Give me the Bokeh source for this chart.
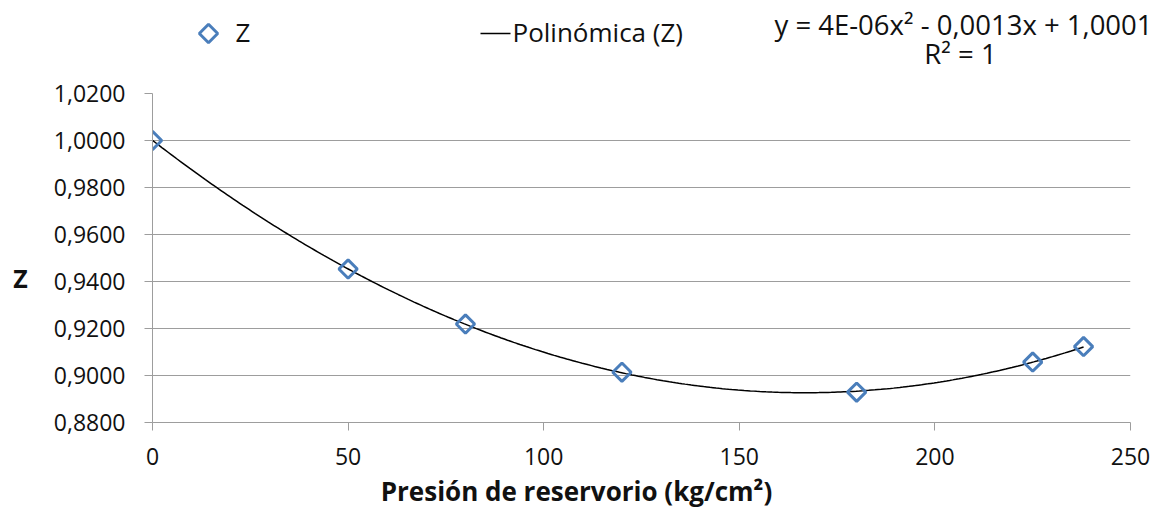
import numpy as np
from bokeh.plotting import figure
from bokeh.models import Range1d, FixedTicker, Label
from bokeh.embed import file_html
from bokeh.resources import INLINE

# ---- data ----
pressure = [0, 50, 80, 120, 180, 225, 238]
z_values = [1.0000, 0.9453, 0.9219, 0.9014, 0.8929, 0.9057, 0.9123]
x_ticks = [0, 50, 100, 150, 200, 250]
y_ticks = [0.88, 0.90, 0.92, 0.94, 0.96, 0.98, 1.00, 1.02]
y_tick_labels = ["0,8800", "0,9000", "0,9200", "0,9400", "0,9600", "0,9800", "1,0000", "1,0200"]
series_name = "Z"
trend_name = "Polinómica (Z)"
equation_text = "y = 4E-06x² - 0,0013x + 1,0001"
r2_text = "R² = 1"
x_title = "Presión de reservorio (kg/cm²)"
y_title = "Z"

# ---- style ----
FONT = "Open Sans"
TXT = "#111111"
GRID = "#9d9d9d"
BLUE = "#4A7EBB"
W = 1161
HEAD_H = 78
MAIN_H = 398
FOOT_H = 40
FOOT_OVERLAP = 6


def blank(height, **kw):
    f = figure(width=W, height=height, x_range=Range1d(0, W), y_range=Range1d(height, 0),
               output_backend="svg", toolbar_location=None, min_border=0,
               x_axis_type=None, y_axis_type=None, **kw)
    f.grid.visible = False
    f.outline_line_color = None
    f.background_fill_color = None
    f.border_fill_color = None
    return f


# ---- header: legend and trendline equation ----
h = blank(HEAD_H)
legend_y = 33
h.scatter([208], [legend_y], marker="square", size=13, angle=np.pi / 4,
          fill_color=None, line_color=BLUE, line_width=3)
h.line([480, 510], [legend_y, legend_y], line_color="black", line_width=1.5)
h.add_layout(Label(x=235, y=legend_y - 2, text=series_name, text_baseline="middle",
                   text_font=FONT, text_font_size="26px", text_color=TXT))
h.add_layout(Label(x=512, y=legend_y - 2, text=trend_name, text_baseline="middle",
                   text_font=FONT, text_font_size="26px", text_color=TXT))
h.add_layout(Label(x=963, y=24, text=equation_text, text_align="center",
                   text_baseline="middle", text_font=FONT, text_font_size="27.5px",
                   text_color=TXT))
h.add_layout(Label(x=960, y=53, text=r2_text, text_align="center",
                   text_baseline="middle", text_font=FONT, text_font_size="27.5px",
                   text_color=TXT))

# ---- main chart ----
p = figure(width=W, height=MAIN_H, x_range=Range1d(0, 250), y_range=Range1d(0.88, 1.02),
           output_backend="svg", toolbar_location=None,
           min_border_left=152, min_border_right=31, min_border_top=15, min_border_bottom=54)
p.outline_line_color = None
p.background_fill_color = "white"
p.border_fill_color = "white"

p.xaxis.ticker = FixedTicker(ticks=x_ticks)
p.yaxis.ticker = FixedTicker(ticks=y_ticks)
p.yaxis.major_label_overrides = dict(zip(y_ticks, y_tick_labels))
p.xgrid.visible = False
p.ygrid.grid_line_color = GRID
p.ygrid.grid_line_width = 1

for ax in (p.xaxis, p.yaxis):
    ax.axis_line_color = GRID
    ax.major_tick_line_color = GRID
    ax.minor_tick_line_color = None
    ax.major_tick_in = 0
    ax.major_tick_out = 8
    ax.major_label_text_font = FONT
    ax.major_label_text_font_size = "23px"
    ax.major_label_text_color = TXT
p.yaxis.major_label_standoff = 19
p.xaxis.major_label_standoff = 17

p.yaxis.axis_label = "\n" + y_title
p.yaxis.axis_label_orientation = "horizontal"
p.yaxis.axis_label_text_font = FONT
p.yaxis.axis_label_text_font_size = "25px"
p.yaxis.axis_label_text_font_style = "bold"
p.yaxis.axis_label_text_color = TXT
p.yaxis.axis_label_standoff = 23

coeffs = np.polyfit(pressure, z_values, 2)
xs = np.linspace(min(pressure), max(pressure), 300)
p.line(xs, np.polyval(coeffs, xs), line_color="black", line_width=1.5)
p.scatter(pressure, z_values, marker="square", size=13, angle=np.pi / 4,
          fill_color=None, line_color=BLUE, line_width=3)

# ---- footer: x axis title ----
f = blank(FOOT_H, margin=(-FOOT_OVERLAP, 0, 0, 0))
f.add_layout(Label(x=576, y=20, text=x_title, text_align="center",
                   text_baseline="middle", text_font=FONT, text_font_size="26px",
                   text_font_style="bold", text_color=TXT))

open("out.html", "w").write(file_html([h, p, f], INLINE))
